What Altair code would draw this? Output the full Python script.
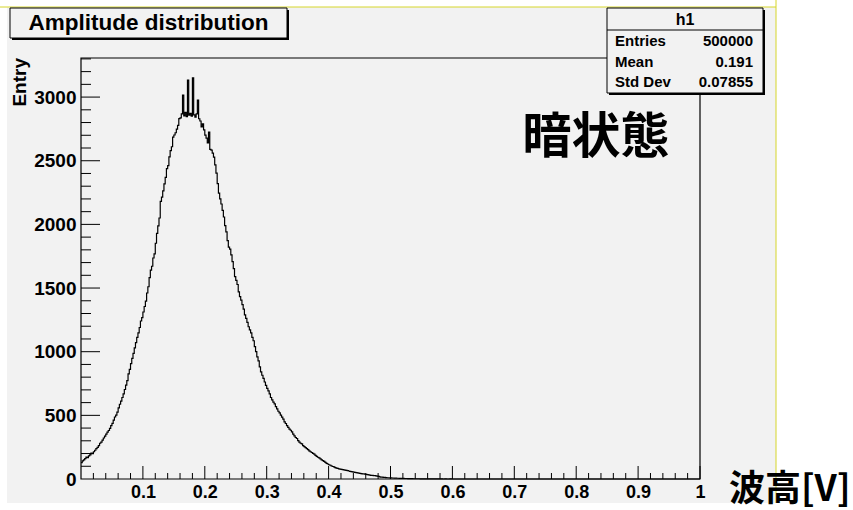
import altair as alt
import pandas as pd

# Histogram "h1": entries per 0.002 V bin, starting at 0 V (bins beyond 0.6 V are empty)
BIN_WIDTH = 0.002
counts = [
    128, 142, 151, 160, 172, 168, 181, 190, 203, 199,
    214, 226, 238, 249, 262, 281, 290, 305, 322, 337,
    352, 368, 381, 398, 420, 437, 462, 487, 501, 526,
    558, 587, 612, 640, 668, 703, 738, 772, 826, 861,
    906, 948, 987, 1030, 1071, 1112, 1148, 1190, 1241, 1268,
    1312, 1355, 1398, 1461, 1510, 1582, 1640, 1671, 1736, 1768,
    1852, 1930, 1988, 2050, 2180, 2214, 2263, 2318, 2370, 2438,
    2462, 2530, 2580, 2610, 2686, 2702, 2720, 2748, 2778, 2831,
    2836, 2868, 3015, 2852, 2880, 2846, 3133, 2858, 2872, 2850,
    3152, 2861, 2842, 2868, 2976, 2830, 2812, 2765, 2790, 2742,
    2701, 2678, 2640, 2725, 2590, 2584, 2560, 2529, 2468, 2403,
    2320, 2246, 2201, 2160, 2110, 2058, 1990, 1941, 1872, 1822,
    1805, 1760, 1708, 1652, 1590, 1560, 1528, 1470, 1432, 1405,
    1370, 1335, 1290, 1262, 1230, 1196, 1172, 1148, 1112, 1086,
    1040, 1001, 960, 928, 880, 842, 815, 790, 762, 735,
    712, 692, 668, 640, 622, 604, 590, 568, 551, 532,
    520, 502, 486, 470, 448, 436, 420, 405, 391, 383,
    370, 352, 338, 326, 318, 302, 290, 281, 276, 262,
    255, 246, 238, 230, 221, 214, 208, 201, 195, 186,
    178, 171, 166, 158, 150, 144, 139, 130, 122, 118,
    112, 108, 102, 98, 95, 90, 86, 84, 80, 78,
    76, 74, 72, 70, 68, 66, 63, 60, 58, 56,
    54, 52, 50, 48, 46, 44, 42, 41, 40, 38,
    37, 35, 33, 31, 29, 28, 27, 26, 24, 22,
    20, 17, 15, 14, 13, 12, 11, 10, 10, 9,
    9, 8, 8, 7, 7, 6, 6, 5, 5, 5,
    5, 4, 4, 4, 3, 3, 3, 3, 2, 2,
    2, 2, 2, 2, 1, 2, 1, 1, 1, 1,
    1, 1, 1, 1, 1, 0, 1, 1, 0, 1,
    0, 1, 0, 0, 1, 0, 0, 0, 1, 0,
]
X_MAX = 1.0
Y_MAX = 3307

x_labels = [0.1, 0.2, 0.3, 0.4, 0.5, 0.6, 0.7, 0.8, 0.9, 1.0]
y_labels = [0, 500, 1000, 1500, 2000, 2500, 3000]
x_minor = [round(0.02 * i, 2) for i in range(1, 50) if i % 5]
y_minor = [100 * i for i in range(1, 34) if i % 5]

title_text = "Amplitude distribution"
hist_name = "h1"
stat_names = ["Entries", "Mean", "Std Dev"]
stat_values = ["500000", "0.191", "0.07855"]
state_label = "暗状態"
x_title = "波高[V]"
y_title = "Entry"

# plot frame in pixels
W, H = 619, 421
PAD = {"left": 81, "top": 58, "right": 853 - 81 - W, "bottom": 510 - 58 - H}

LATIN = "Liberation Sans"
CJK = "Noto Sans CJK JP"

xs = alt.Scale(domain=[0, X_MAX], nice=False, zero=False)
ys = alt.Scale(domain=[0, Y_MAX], nice=False)

edges = [round(i * BIN_WIDTH, 4) for i in range(len(counts))]
end = round(len(counts) * BIN_WIDTH, 4)
hist = pd.DataFrame({"x": edges + [end, X_MAX], "n": counts + [0, 0]})

one = pd.DataFrame({"k": [0]})


def box(x1, x2, y1, y2, **kw):
    return alt.Chart(one).mark_rect(**kw).encode(
        x=alt.value(x1), x2=alt.value(x2), y=alt.value(y1), y2=alt.value(y2)
    )


def label(text, x, y, **kw):
    return alt.Chart(one).mark_text(text=text, **kw).encode(
        x=alt.value(x), y=alt.value(y)
    )


x_axis = alt.Axis(
    values=x_labels, format="~g", domain=False, ticks=False, grid=False,
    labelFont=LATIN, labelFontWeight="bold", labelFontSize=18,
    labelColor="black", labelPadding=4, labelFlush=False,
    labelOverlap=False, title=None, zindex=2,
)
y_axis = alt.Axis(
    values=y_labels, format="d", domain=False, ticks=False, grid=False,
    labelFont=LATIN, labelFontWeight="bold", labelFontSize=19,
    labelColor="black", labelPadding=5, labelFlush=False,
    labelOverlap=False, title=None, zindex=2,
)

# canvas background and its thin coloured edge
canvas = box(-74, 695, -51, 445, fill="#f2f2f2")
edge_top = alt.Chart(one).mark_rule(color="#d6d62a", strokeWidth=1).encode(
    x=alt.value(-81), x2=alt.value(695), y=alt.value(-51)
)
edge_right = alt.Chart(one).mark_rule(color="#d6d62a", strokeWidth=1).encode(
    x=alt.value(695), y=alt.value(-58), y2=alt.value(445)
)

# histogram outline
line = alt.Chart(hist).mark_line(
    interpolate="step-after", color="black", strokeWidth=1.2
).encode(
    x=alt.X("x:Q", scale=xs, axis=x_axis),
    y=alt.Y("n:Q", scale=ys, axis=y_axis),
)


# inward-pointing ticks
def x_ticks(vals, length):
    return alt.Chart(pd.DataFrame({"x": vals})).mark_rule(
        color="black", strokeWidth=1
    ).encode(
        x=alt.X("x:Q", scale=xs, axis=x_axis), y=alt.value(H), y2=alt.value(H - length)
    )


def y_ticks(vals, length):
    return alt.Chart(pd.DataFrame({"n": vals})).mark_rule(
        color="black", strokeWidth=1
    ).encode(
        y=alt.Y("n:Q", scale=ys, axis=y_axis), x=alt.value(0), x2=alt.value(length)
    )


ticks = [
    x_ticks(x_labels, 13), x_ticks(x_minor, 6),
    y_ticks([v for v in y_labels if v > 0], 19), y_ticks(y_minor, 10),
]

frame = box(0, W, 0, H, filled=False, stroke="black", strokeWidth=1.2)

# title box with shadow
title_shadow = box(-69, 208, -48, -18, fill="black")
title_box = box(-71, 206, -50, -20, fill="#f2f2f2", stroke="black", strokeWidth=1)
title_lbl = label(title_text, 67.5, -35, font=LATIN, fontWeight="bold",
                  fontSize=22.5, align="center", baseline="middle", color="black")

# statistics box with shadow
stats_shadow = box(528, 684, -48, 37, fill="black")
stats_box = box(526, 682, -50, 35, fill="#f2f2f2", stroke="black", strokeWidth=1)
stats_sep = alt.Chart(one).mark_rule(color="black", strokeWidth=1).encode(
    x=alt.value(526), x2=alt.value(682), y=alt.value(-28)
)
stats_txt = [label(hist_name, 604, -38, font=LATIN, fontWeight="bold",
                   fontSize=16, align="center", baseline="middle")]
for i, (nm, val) in enumerate(zip(stat_names, stat_values)):
    yy = -17 + 20.5 * i
    stats_txt.append(label(nm, 534, yy, font=LATIN, fontWeight="bold",
                           fontSize=15, align="left", baseline="middle"))
    stats_txt.append(label(val, 672, yy, font=LATIN, fontWeight="bold",
                           fontSize=15, align="right", baseline="middle"))

state = label(state_label, 515, 80, font=CJK, fontWeight="bold", fontSize=49,
              align="center", baseline="middle", color="black")
xtitle = label(x_title, 648, 432, font=CJK, fontWeight="bold", fontSize=36,
               align="left", baseline="middle", color="black")
ytitle = label(y_title, -61, 0, font=LATIN, fontWeight="bold", fontSize=19,
               angle=270, align="right", baseline="middle", color="black")

chart = alt.layer(
    canvas, edge_top, edge_right, line, *ticks, frame,
    title_shadow, title_box, title_lbl,
    stats_shadow, stats_box, stats_sep, *stats_txt,
    state, xtitle, ytitle,
).properties(
    width=W, height=H, padding=PAD,
    autosize=alt.AutoSizeParams(type="none"), background="white",
).configure_view(stroke=None)

chart.save("out.html", embed_options={"renderer": "svg", "actions": False})
